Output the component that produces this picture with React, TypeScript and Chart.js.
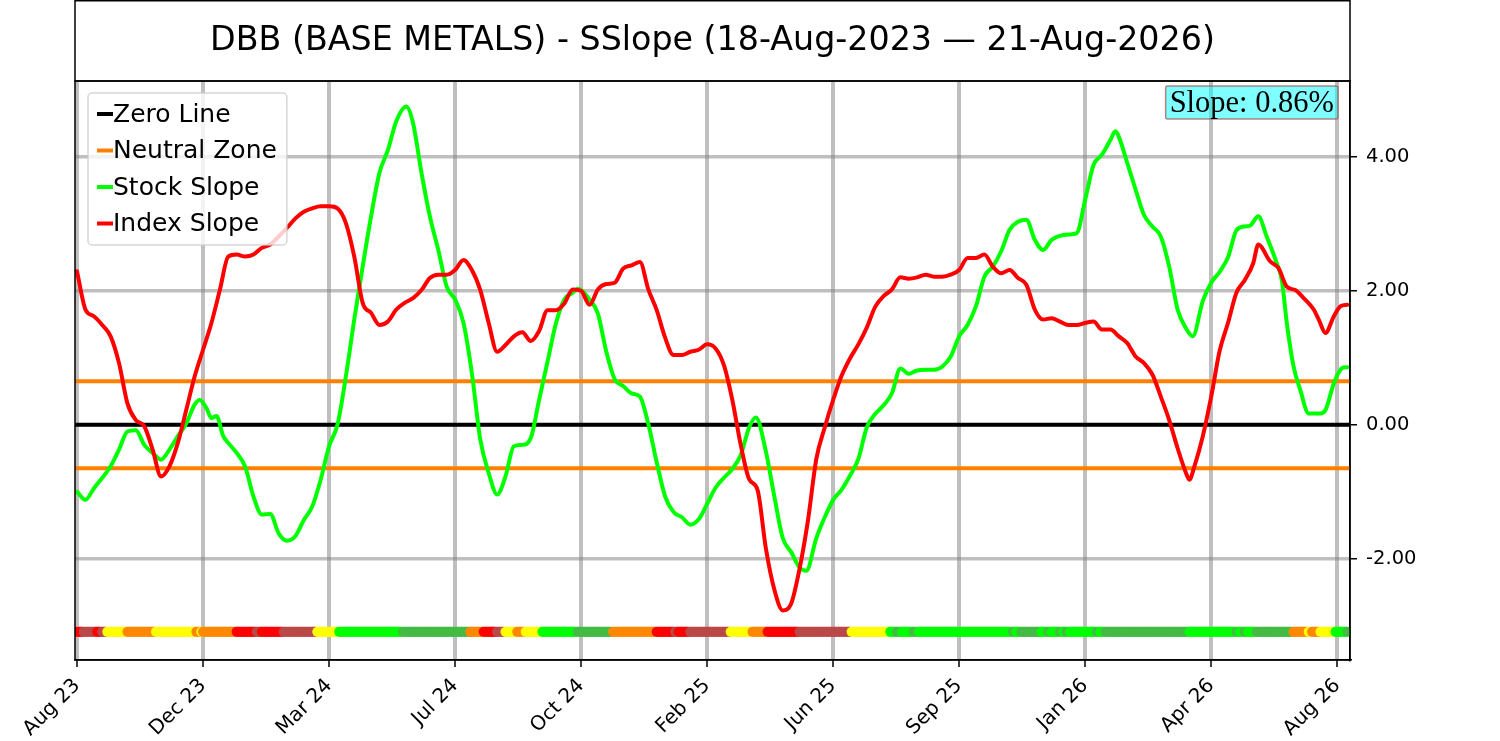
import React, { useEffect, useRef } from 'react';
import { Chart, registerables, Plugin } from 'chart.js';

Chart.register(...registerables);

// x axis is a trading-day index; labels sit every 75 sessions
const tickIdx = [0, 75, 150, 225, 300, 375, 450, 525, 600, 675, 750];
const tickLabels = ['Aug 23', 'Dec 23', 'Mar 24', 'Jul 24', 'Oct 24', 'Feb 25', 'Jun 25', 'Sep 25', 'Jan 26', 'Apr 26', 'Aug 26'];
const yTicks = [-2, 0, 2, 4];

const xMin = -1.2;
const xMax = 757.6;
const yMin = -3.51;
const yMax = 5.13;

const titleText = 'DBB (BASE METALS) - SSlope (18-Aug-2023 \u2014 21-Aug-2026)';

const stockIdx = [
  0, 5, 10, 20, 25, 30, 35, 40, 45, 50, 55, 60, 65, 70, 73, 77, 80, 83, 87, 90,
  95, 100, 105, 110, 115, 120, 125, 130, 135, 140, 145, 150, 155, 160, 165, 170, 175, 180, 185, 190,
  196, 200, 205, 210, 215, 220, 225, 230, 235, 240, 245, 250, 255, 260, 265, 270, 275, 280, 285, 290,
  295, 298, 305, 310, 315, 320, 325, 330, 335, 340, 345, 350, 355, 360, 365, 370, 375, 380, 385, 390,
  395, 400, 404, 410, 415, 420, 425, 430, 434, 440, 445, 450, 455, 460, 465, 470, 475, 480, 485, 490,
  495, 500, 505, 510, 515, 520, 525, 530, 535, 540, 545, 550, 555, 560, 565, 570, 575, 580, 590, 595,
  600, 605, 610, 615, 618, 620, 625, 630, 635, 640, 645, 650, 655, 660, 664, 670, 675, 680, 685, 690,
  695, 698, 703, 708, 714, 717, 720, 724, 728, 733, 740, 743, 748, 753, 756,
];
const stockVal = [
  -1.0, -1.12, -0.95, -0.62, -0.37, -0.1, -0.08, -0.3, -0.42, -0.52, -0.37, -0.17, 0.02, 0.3, 0.37, 0.25, 0.1, 0.13, -0.17, -0.27,
  -0.42, -0.62, -1.07, -1.34, -1.33, -1.62, -1.73, -1.66, -1.42, -1.22, -0.82, -0.32, 0.0, 0.72, 1.57, 2.36, 3.11, 3.76, 4.1, 4.53,
  4.75, 4.5, 3.76, 3.11, 2.61, 2.06, 1.87, 1.52, 0.77, -0.22, -0.72, -1.04, -0.77, -0.32, -0.3, -0.2, 0.37, 0.94, 1.51, 1.87,
  1.97, 2.03, 1.87, 1.66, 1.09, 0.68, 0.58, 0.47, 0.42, 0.01, -0.56, -1.07, -1.3, -1.38, -1.49, -1.41, -1.18, -0.94, -0.79, -0.66,
  -0.45, -0.04, 0.11, -0.4, -1.07, -1.69, -1.9, -2.13, -2.18, -1.69, -1.38, -1.12, -0.97, -0.76, -0.51, -0.04, 0.16, 0.29, 0.47, 0.84,
  0.76, 0.81, 0.82, 0.82, 0.87, 1.02, 1.32, 1.49, 1.77, 2.21, 2.36, 2.59, 2.91, 3.03, 3.06, 2.76, 2.61, 2.76, 2.84, 2.86,
  3.36, 3.88, 4.03, 4.25, 4.38, 4.3, 3.91, 3.51, 3.13, 2.96, 2.81, 2.36, 1.72, 1.44, 1.32, 1.85, 2.12, 2.28, 2.5, 2.9,
  2.96, 2.97, 3.11, 2.81, 2.41, 2.16, 1.52, 0.87, 0.52, 0.17, 0.17, 0.22, 0.62, 0.85, 0.86,
];

const indexIdx = [
  0, 5, 10, 15, 20, 25, 30, 35, 40, 45, 50, 55, 60, 65, 70, 75, 80, 85, 90, 95,
  100, 105, 110, 115, 120, 125, 130, 135, 140, 145, 150, 155, 160, 165, 170, 175, 180, 185, 190, 195,
  200, 205, 210, 215, 220, 225, 230, 235, 240, 245, 250, 255, 260, 265, 270, 275, 280, 285, 290, 295,
  300, 305, 310, 315, 320, 325, 330, 335, 340, 345, 350, 355, 360, 365, 370, 375, 380, 385, 390, 395,
  400, 405, 410, 415, 420, 425, 430, 435, 440, 445, 450, 455, 460, 465, 470, 475, 480, 485, 490, 495,
  500, 505, 510, 515, 520, 525, 530, 535, 540, 545, 550, 555, 560, 565, 570, 575, 580, 585, 590, 595,
  600, 605, 610, 615, 620, 625, 630, 635, 640, 645, 650, 655, 660, 662, 665, 670, 675, 680, 685, 690,
  695, 700, 703, 710, 715, 720, 725, 730, 736, 739, 743, 748, 752, 756,
];
const indexVal = [
  2.29, 1.72, 1.62, 1.49, 1.32, 0.92, 0.32, 0.07, -0.02, -0.37, -0.77, -0.62, -0.27, 0.22, 0.72, 1.12, 1.52, 2.01, 2.51, 2.54,
  2.51, 2.54, 2.64, 2.69, 2.81, 2.94, 3.08, 3.18, 3.23, 3.26, 3.26, 3.23, 3.01, 2.51, 1.82, 1.67, 1.49, 1.54, 1.72, 1.82,
  1.89, 2.01, 2.19, 2.24, 2.24, 2.31, 2.46, 2.31, 2.01, 1.52, 1.09, 1.19, 1.32, 1.38, 1.25, 1.4, 1.71, 1.71, 1.81, 2.02,
  2.0, 1.79, 2.02, 2.1, 2.12, 2.33, 2.38, 2.43, 2.02, 1.71, 1.3, 1.04, 1.04, 1.09, 1.12, 1.2, 1.14, 0.89, 0.37, -0.3,
  -0.81, -0.97, -1.85, -2.46, -2.77, -2.67, -2.15, -1.43, -0.51, -0.04, 0.37, 0.73, 0.99, 1.2, 1.45, 1.76, 1.92, 2.02, 2.2, 2.18,
  2.2, 2.24, 2.21, 2.21, 2.24, 2.31, 2.49, 2.49, 2.54, 2.36, 2.26, 2.31, 2.19, 2.09, 1.72, 1.57, 1.59, 1.54, 1.49, 1.49,
  1.52, 1.54, 1.42, 1.42, 1.32, 1.22, 1.02, 0.92, 0.75, 0.42, 0.07, -0.35, -0.72, -0.82, -0.62, -0.17, 0.42, 1.1, 1.52, 1.97,
  2.16, 2.41, 2.69, 2.44, 2.34, 2.06, 2.01, 1.89, 1.72, 1.57, 1.37, 1.62, 1.77, 1.79,
];

const zeroLevel = 0;
const neutralBand = 0.65;
const stripLevel = -3.09;
const lastIdx = 756;

// signal strip: each run starts at an index and lasts until the next start
const runStart = [
  0, 4, 12, 15, 18, 30, 47, 71, 74, 75, 95, 107, 110, 123, 143, 156, 194, 234, 242, 250,
  255, 262, 267, 277, 298, 319, 345, 356, 358, 365, 389, 402, 411, 430, 461, 484, 488, 491, 498, 501,
  557, 559, 562, 574, 578, 580, 585, 587, 589, 591, 607, 609, 612, 662, 690, 692, 695, 697, 702, 724,
  733, 735, 740, 749, 756,
];
const runColor = [
  'R', 'B', 'R', 'B', 'Y', 'O', 'Y', 'O', 'Y', 'O', 'R', 'B', 'R', 'B', 'Y', 'L', 'G', 'O', 'R', 'B',
  'Y', 'O', 'Y', 'L', 'G', 'O', 'R', 'B', 'R', 'B', 'Y', 'O', 'R', 'B', 'Y', 'L', 'G', 'L', 'G', 'L',
  'G', 'L', 'G', 'L', 'G', 'L', 'G', 'L', 'G', 'L', 'G', 'L', 'G', 'L', 'G', 'L', 'G', 'L', 'G', 'O',
  'Y', 'O', 'Y', 'L', 'G',
];
const palette: Record<string, string> = {
  R: '#ff0000',
  B: '#bb4848',
  Y: '#ffff00',
  O: '#ff8800',
  L: '#00ff00',
  G: '#44bb44',
};

const stripPoints: { x: number; y: number }[] = [];
const stripColors: string[] = [];
for (let r = 0; r < runStart.length; r++) {
  const end = r + 1 < runStart.length ? runStart[r + 1] : lastIdx + 1;
  for (let i = runStart[r]; i < end; i++) {
    stripPoints.push({ x: i, y: stripLevel });
    stripColors.push(palette[runColor[r]]);
  }
}

const FONT = '"DejaVu Sans", sans-serif';

const decorations: Plugin = {
  id: 'decorations',
  afterDatasetsDraw(chart) {
    const { ctx, chartArea } = chart;
    const { left, right, top } = chartArea;

    // legend box
    const items = chart.data.datasets.filter((d: any) => d.label);
    ctx.save();
    ctx.font = `25px ${FONT}`;
    const textW = Math.max(...items.map((d: any) => ctx.measureText(d.label).width));
    const bx = left + 13;
    const by = top + 12;
    const bw = 25 + textW + 10;
    const bh = 152;
    ctx.beginPath();
    ctx.roundRect(bx, by, bw, bh, 4);
    ctx.fillStyle = 'rgba(255,255,255,0.8)';
    ctx.fill();
    ctx.strokeStyle = 'rgba(204,204,204,0.8)';
    ctx.lineWidth = 1.5;
    ctx.stroke();
    items.forEach((d: any, k: number) => {
      const yy = by + 21 + k * 36.5;
      ctx.strokeStyle = d.borderColor;
      ctx.lineWidth = 4;
      ctx.beginPath();
      ctx.moveTo(bx + 9, yy);
      ctx.lineTo(bx + 25, yy);
      ctx.stroke();
      ctx.fillStyle = '#000';
      ctx.textBaseline = 'middle';
      ctx.textAlign = 'left';
      ctx.fillText(d.label, bx + 25, yy + 1);
    });

    // slope box
    const last = stockVal[stockVal.length - 1];
    const slopeText = `Slope: ${last.toFixed(2)}%`;
    ctx.font = '30.5px "Liberation Serif", serif';
    const sw = ctx.measureText(slopeText).width;
    const sx1 = right - 12;
    const sx0 = sx1 - sw - 8;
    const sy0 = top + 5;
    ctx.beginPath();
    ctx.roundRect(sx0, sy0, sx1 - sx0, 33, 2);
    ctx.fillStyle = 'rgba(0,255,255,0.5)';
    ctx.fill();
    ctx.strokeStyle = 'rgba(160,80,80,0.7)';
    ctx.lineWidth = 1.5;
    ctx.stroke();
    ctx.fillStyle = '#000';
    ctx.textBaseline = 'alphabetic';
    ctx.textAlign = 'left';
    ctx.fillText(slopeText, sx0 + 4, sy0 + 26);
    ctx.restore();
  },
  afterDraw(chart) {
    const { ctx, chartArea } = chart;
    const { left, right, top, bottom } = chartArea;
    ctx.save();
    ctx.strokeStyle = '#000';
    ctx.lineWidth = 1.5;
    ctx.strokeRect(left, top, right - left, bottom - top);
    // title panel
    ctx.strokeRect(left, 0.75, right - left, top - 0.75);
    ctx.fillStyle = '#000';
    ctx.font = `33.3px ${FONT}`;
    ctx.textAlign = 'center';
    ctx.textBaseline = 'middle';
    ctx.fillText(titleText, (left + right) / 2, top / 2 + 1);
    ctx.restore();
  },
};

const lineStyle = {
  type: 'line' as const,
  pointRadius: 0,
  borderWidth: 4,
  borderJoinStyle: 'round' as const,
  borderCapStyle: 'round' as const,
  fill: false,
};

const App: React.FC = () => {
  const canvasRef = useRef<HTMLCanvasElement | null>(null);

  useEffect(() => {
    if (!canvasRef.current) return;
    const chart = new Chart(canvasRef.current, {
      type: 'line',
      data: {
        datasets: [
          {
            ...lineStyle,
            label: 'Zero Line',
            data: [{ x: xMin, y: zeroLevel }, { x: xMax, y: zeroLevel }],
            borderColor: '#000000',
            order: 3,
          },
          {
            ...lineStyle,
            label: 'Neutral Zone',
            data: [{ x: xMin, y: neutralBand }, { x: xMax, y: neutralBand }],
            borderColor: '#ff8000',
            order: 4,
          },
          {
            ...lineStyle,
            label: '',
            data: [{ x: xMin, y: -neutralBand }, { x: xMax, y: -neutralBand }],
            borderColor: '#ff8000',
            order: 4,
          },
          {
            ...lineStyle,
            label: 'Stock Slope',
            data: stockIdx.map((x, i) => ({ x, y: stockVal[i] })),
            borderColor: '#00ff00',
            cubicInterpolationMode: 'monotone',
            order: 1,
          },
          {
            ...lineStyle,
            label: 'Index Slope',
            data: indexIdx.map((x, i) => ({ x, y: indexVal[i] })),
            borderColor: '#ff0000',
            cubicInterpolationMode: 'monotone',
            order: 0,
          },
          {
            type: 'scatter',
            label: '',
            data: stripPoints,
            pointBackgroundColor: stripColors,
            pointBorderWidth: 0,
            pointRadius: 5,
            showLine: false,
            order: 5,
          } as any,
        ],
      },
      options: {
        animation: false,
        responsive: false,
        layout: { padding: { left: 75, top: 81, right: 0, bottom: 0 } },
        plugins: {
          legend: { display: false },
          tooltip: { enabled: false },
          title: { display: false },
        },
        scales: {
          x: {
            type: 'linear',
            min: xMin,
            max: xMax,
            afterBuildTicks: (scale) => {
              scale.ticks = tickIdx.map((v) => ({ value: v }));
            },
            afterFit: (scale) => {
              scale.height = 81;
            },
            ticks: {
              autoSkip: false,
              maxRotation: 45,
              minRotation: 45,
              padding: 7,
              color: '#000',
              font: { family: FONT, size: 20 },
              callback: (_v, i) => tickLabels[i],
            },
            grid: {
              color: 'rgba(128,128,128,0.5)',
              lineWidth: 4,
              tickColor: '#000',
              tickLength: 7,
              tickWidth: 1.5,
            },
            border: { display: true, color: '#000', width: 1.5 },
          },
          y: {
            type: 'linear',
            position: 'right',
            min: yMin,
            max: yMax,
            afterBuildTicks: (scale) => {
              scale.ticks = yTicks.map((v) => ({ value: v }));
            },
            afterFit: (scale) => {
              scale.width = 150;
            },
            ticks: {
              padding: 9,
              color: '#000',
              font: { family: FONT, size: 19.5 },
              callback: (v) => Number(v).toFixed(2),
            },
            grid: {
              color: 'rgba(128,128,128,0.5)',
              lineWidth: 3.5,
              tickColor: '#000',
              tickLength: 7,
              tickWidth: 1.5,
            },
            border: { display: true, color: '#000', width: 1.5 },
          },
        },
      },
      plugins: [decorations],
    });
    return () => {
      chart.destroy();
    };
  }, []);

  return (
    <div style={{ position: 'absolute', left: 0, top: 0, width: 1500, height: 741, background: '#fff' }}>
      <canvas ref={canvasRef} width={1500} height={741} />
    </div>
  );
};

export default App;
